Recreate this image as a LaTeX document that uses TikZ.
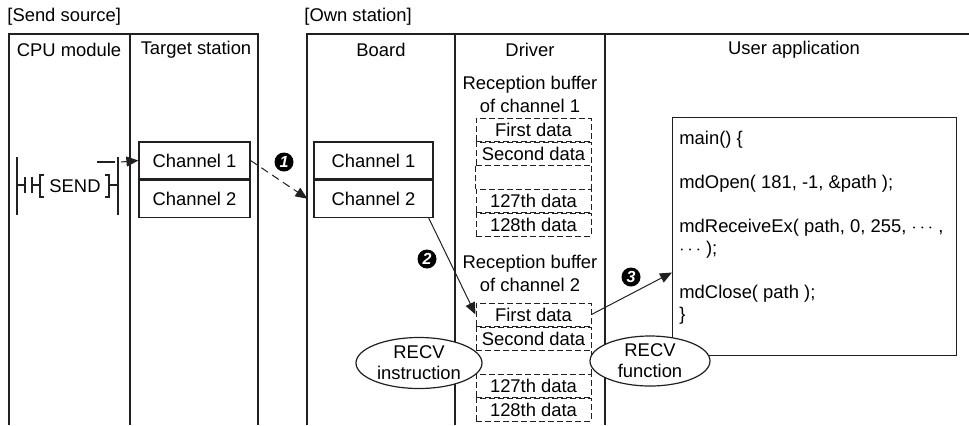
\documentclass[tikz,border=0pt]{standalone}
\usepackage{fontspec}
\setmainfont{Liberation Sans}
\usetikzlibrary{arrows.meta,positioning,shapes.geometric,calc}
\definecolor{ink}{HTML}{231F20}

\begin{document}
\begin{tikzpicture}[x=0.5pt,y=-0.5pt,
  font=\fontsize{9.2}{11}\selectfont,
  fr/.style={draw=ink,line width=0.7pt},
  ch/.style={draw=ink,line width=0.6pt,minimum height=18.5pt,inner sep=0pt},
  cell/.style={draw=ink,dash pattern=on 3pt off 1.5pt,line width=0.5pt,minimum width=57.5pt,minimum height=11.5pt,inner sep=0pt},
  side/.style={draw=ink,dash pattern=on 3pt off 1.5pt,line width=0.5pt},
  num/.style={circle,fill=black,text=white,inner sep=0pt,minimum size=9.5pt,font=\fontsize{8}{8}\selectfont\bfseries\itshape},
  oval/.style={ellipse,draw=ink,fill=white,line width=0.6pt,inner xsep=0pt,inner ysep=-2pt,align=center,font=\fontsize{9.2}{10.5}\selectfont},
  ar/.style={-{Triangle[length=6pt,width=5pt]},line width=0.5pt,draw=ink}]
  \useasboundingbox (0,0) rectangle (969,425);
  % frames
  \draw[fr] (9,425) |- (258,34) -- (258,425);
  \draw[fr] (130,34) -- (130,425);
  \draw[fr] (307,425) |- (969,34);
  \draw[fr] (455,34) -- (455,425);
  \draw[fr] (605,34) -- (605,425);
  \node[anchor=west,inner sep=0pt] (src) at (7,17) {[Send source]};
  \node[anchor=west,inner sep=0pt] (own) at (304,17) {[Own station]};
  \node (hcpu) at (69,50) {CPU module};
  \node (htgt) at (196,50) {Target station};
  \node (hbrd) at (381,50) {Board};
  \node (hdrv) at (530,50) {Driver};
  \node (happ) at (794,50) {User application};
  % ladder
  \draw[fr,line width=0.6pt] (17,157) -- (17,215) (118,157) -- (118,215)
    (17,185) -- (25,185) (25,177) -- (25,193) (32,177) -- (32,193) (32,185) -- (40,185)
    (44,175) -- (40,175) -- (40,197) -- (44,197)
    (105,175) -- (109,175) -- (109,197) -- (105,197) (109,185) -- (118,185)
    (97,162) -- (115,162);
  \node (send) at (75,186) {SEND};
  \coordinate (coil) at (121,162);
  % channels
  \node[ch,minimum width=55.5pt] (tch1) at (194.5,160.5) {Channel 1};
  \node[ch,minimum width=55.5pt,below=0pt of tch1] (tch2) {Channel 2};
  \node[ch,minimum width=59.5pt] (bch1) at (373.5,160.5) {Channel 1};
  \node[ch,minimum width=59.5pt,below=0pt of bch1] (bch2) {Channel 2};
  % buffer 1
  \node[align=center,font=\fontsize{9.2}{11.5}\selectfont] (lbl1) at (530,94.5) {Reception buffer\\of channel 1};
  \node[cell] (a1) at (533.5,129.5) {First data};
  \node[cell,below=0pt of a1] (a2) {Second data};
  \node[cell,below=11.5pt of a2] (a4) {127th data};
  \node[cell,below=0pt of a4] (a5) {128th data};
  \draw[side] (a2.south west) -- (a4.north west) (a2.south east) -- (a4.north east);
  % buffer 2
  \node[align=center,font=\fontsize{9.2}{11.5}\selectfont] (lbl2) at (530,273.5) {Reception buffer\\of channel 2};
  \node[cell] (b1) at (533.5,314.5) {First data};
  \node[cell,below=0pt of b1] (b2) {Second data};
  \node[cell,below=11.5pt of b2] (b4) {127th data};
  \node[cell,below=0pt of b4] (b5) {128th data};
  \draw[side] (b2.south west) -- (b4.north west) (b2.south east) -- (b4.north east);
  % user application
  \node[draw=ink,line width=0.6pt,minimum width=142pt,minimum height=119pt,inner sep=0pt,anchor=north west] (app) at (672,117) {};
  \node[anchor=north west,inner sep=0pt,align=left] (code) at ([xshift=3.5pt,yshift=-7pt]app.north west)
    {main() \{\\[11pt]mdOpen( 181, -1, \&path );\\[11pt]mdReceiveEx( path, 0, 255, $\cdots$ ,\\$\cdots$ );\\[11pt]mdClose( path );\\\}};
  % flow
  \draw[ar] (coil) -- (tch1.west);
  \draw[ar,dash pattern=on 4pt off 2.5pt] (tch1.east) -- ([xshift=-3pt]bch2.west);
  \draw[ar] ([xshift=-2.5pt]bch2.south east) -- (b1.west);
  \draw[ar] (b1.east) -- ($(app.north west)!0.65!(app.south west)$);
  \node[num] (n1) at (284,162) {1};
  \node[num] (n2) at (427,259) {2};
  \node[num] (n3) at (631,277) {3};
  \node[oval,minimum width=63pt,minimum height=25.5pt] (rinst) at (419,363) {RECV\\instruction};
  \node[oval,minimum width=60pt,minimum height=25pt] (rfunc) at (650,361) {RECV\\function};
\end{tikzpicture}
\end{document}
